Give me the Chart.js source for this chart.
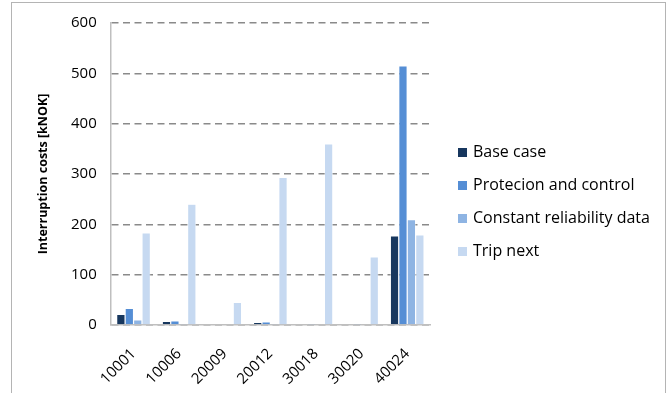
<!DOCTYPE html>
<html>
<head>
<meta charset="utf-8">
<script src="https://cdn.jsdelivr.net/npm/chart.js@4/dist/chart.umd.min.js"></script>
<style>
	html, body { margin: 0; padding: 0; background: #fff; }
	#wrap { position: relative; width: 668px; height: 393px; }
	#frame { position: absolute; left: 11px; top: 2px; width: 655px; height: 400px; border: 1px solid #b4b4b4; border-bottom: none; box-sizing: border-box; }
	canvas { position: absolute; left: 0; top: 0; }
	#legend { position: absolute; left: 458px; top: 141px; margin: 0; padding: 0; list-style: none;
		font-family: 'Open Sans', 'Liberation Sans', sans-serif; font-size: 16px; color: #000; }
	#legend li { height: 20px; line-height: 20px; margin-bottom: 13px; white-space: nowrap; }
	#legend span { display: inline-block; width: 9px; height: 9px; margin-right: 6px; vertical-align: 0px; }
</style>
</head>
<body>
<div id="wrap">
	<div id="frame"></div>
	<canvas id="costChart" width="668" height="393"></canvas>
	<ul id="legend"></ul>
</div>
<script>
"use strict";

// feeder / delivery point ids on the x axis
var nodes = ["10001", "10006", "20009", "20012", "30018", "30020", "40024"];

// interruption costs in kNOK
var baseCase = [21, 7, 0, 5, 0, 0, 177];
var protectionControl = [33, 8, 0, 6, 2, 2, 515];
var constantReliability = [10, 2, 0, 2, 0, 0, 209];
var tripNext = [183, 240, 45, 293, 360, 135, 179];

var yTicks = [0, 100, 200, 300, 400, 500, 600];

var seriesNames = ["Base case", "Protecion and control", "Constant reliability data", "Trip next"];
var seriesColors = ["#17375e", "#558ed5", "#8eb4e3", "#c6d9f1"];

var fontFamily = "'Open Sans', 'Liberation Sans', sans-serif";

function makeDataset(i, values) {
	return {
		label: seriesNames[i],
		data: values,
		backgroundColor: seriesColors[i],
		borderColor: "#ffffff",
		borderWidth: 0.6,
		categoryPercentage: 0.74,
		barPercentage: 1.0
	};
}

var chart = new Chart(document.getElementById("costChart"), {
	type: "bar",
	data: {
		labels: nodes,
		datasets: [
			makeDataset(0, baseCase),
			makeDataset(1, protectionControl),
			makeDataset(2, constantReliability),
			makeDataset(3, tripNext)
		]
	},
	options: {
		responsive: false,
		animation: false,
		layout: {
			padding: { left: 36, top: 14, right: 238, bottom: 0 }
		},
		plugins: {
			tooltip: { enabled: false },
			legend: { display: false }
		},
		scales: {
			x: {
				// rotated labels get more room than they use; take some back
				afterFit: function (axis) {
					axis.height -= 15;
				},
				grid: { display: false, drawTicks: false },
				border: { color: "#bfbfbf", width: 1.5 },
				ticks: {
					maxRotation: 45,
					minRotation: 45,
					padding: 20,
					color: "#000000",
					font: { family: fontFamily, size: 15 }
				}
			},
			y: {
				min: 0,
				max: 600,
				afterBuildTicks: function (axis) {
					axis.ticks = yTicks.map(function (v) { return { value: v }; });
				},
				grid: {
					color: "#8a8a8a",
					lineWidth: 1.5,
					drawTicks: false
				},
				border: { color: "#bfbfbf", width: 1.5, dash: [7, 4.5] },
				ticks: {
					padding: 14,
					color: "#000000",
					font: { family: fontFamily, size: 15 }
				},
				title: {
					display: true,
					text: "Interruption costs [kNOK]",
					color: "#000000",
					padding: { top: 0, bottom: 6 },
					font: { family: fontFamily, size: 12.5, weight: "bold" }
				}
			}
		}
	}
});

// legend as plain list beside the plot
var legendList = document.getElementById("legend");
chart.data.datasets.forEach(function (ds) {
	var li = document.createElement("li");
	var box = document.createElement("span");
	box.style.background = ds.backgroundColor;
	li.appendChild(box);
	li.appendChild(document.createTextNode(ds.label));
	legendList.appendChild(li);
});
</script>
</body>
</html>
